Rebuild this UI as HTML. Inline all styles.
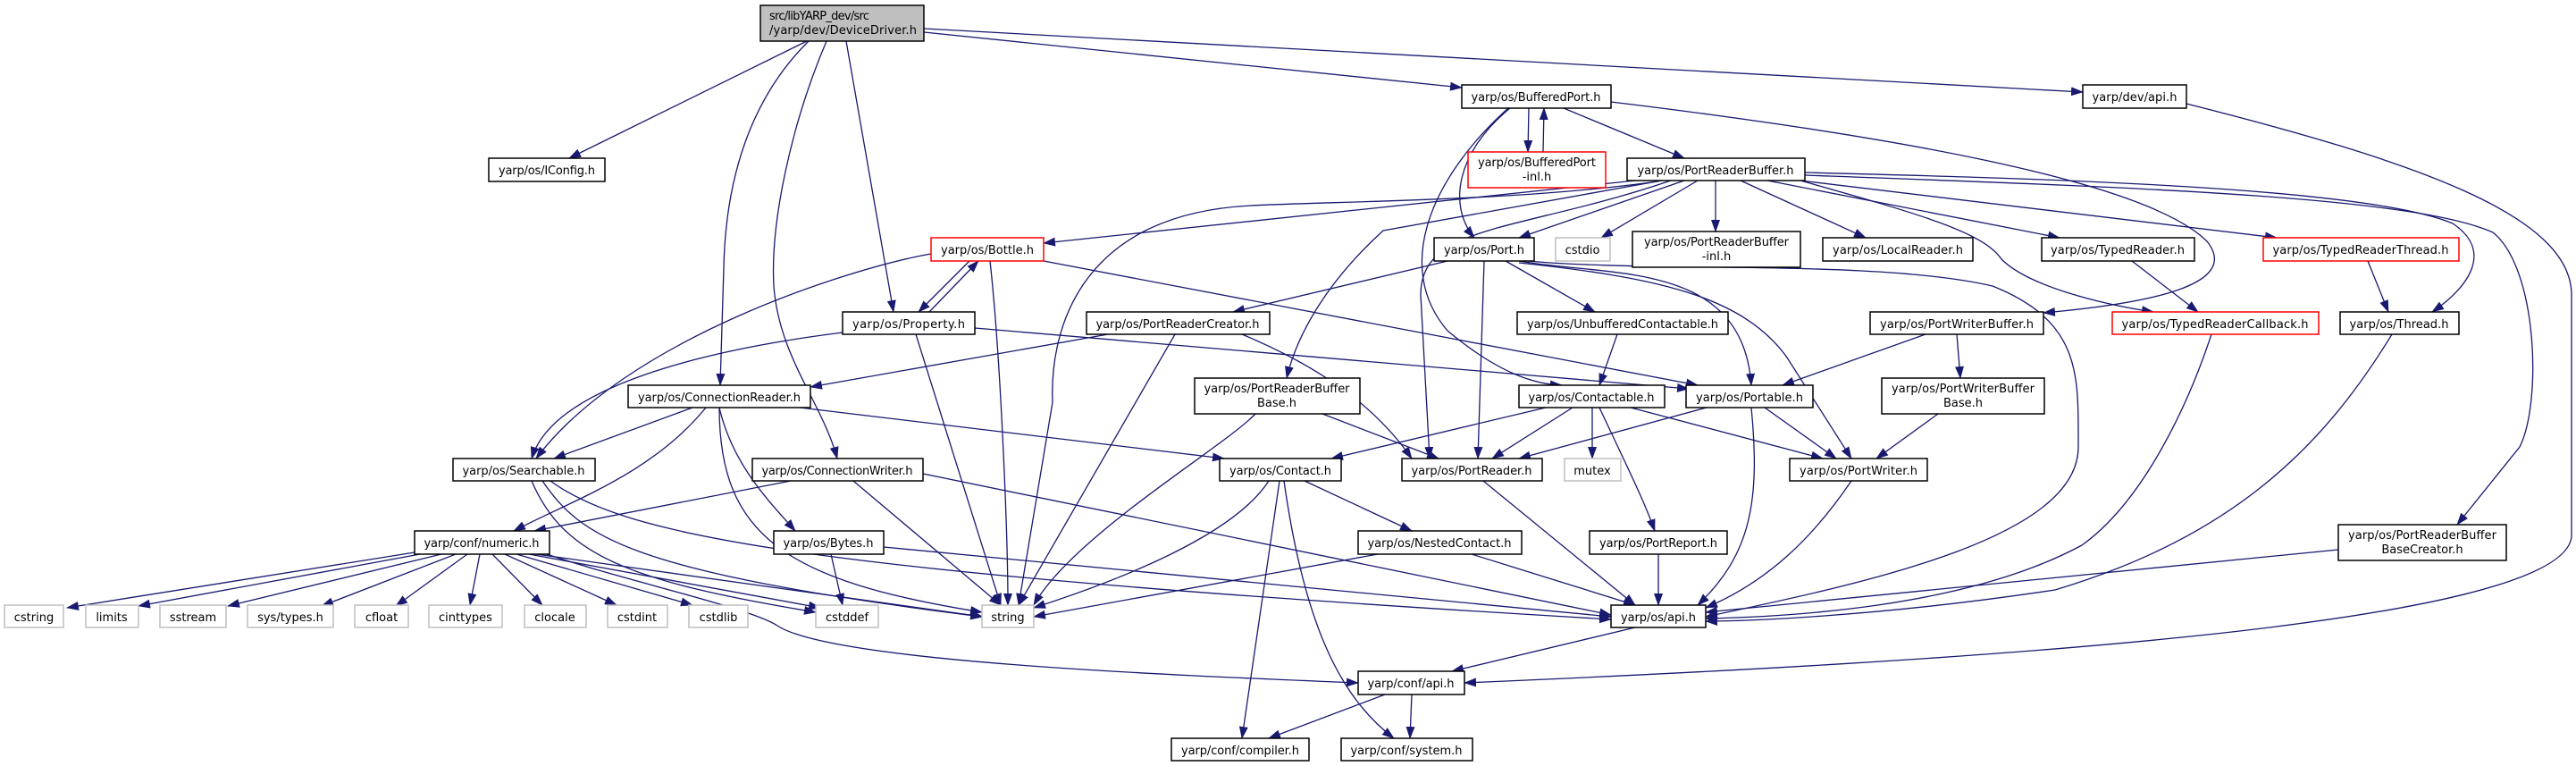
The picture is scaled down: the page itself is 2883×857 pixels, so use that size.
<!DOCTYPE html>
<html><head><meta charset="utf-8">
<style>
html,body{margin:0;padding:0;background:#fff;}
svg{display:block;}
text{font-family:"DejaVu Sans","Liberation Sans",sans-serif;font-size:13px;fill:#000;}
.n{fill:#fff;stroke:#000;stroke-width:1.5;}
.g{fill:#fff;stroke:#bfbfbf;stroke-width:1.5;}
.r{fill:#fff;stroke:#ff0000;stroke-width:1.5;}
.e{fill:none;stroke:#191970;stroke-width:1.3;}
</style></head><body>
<svg width="2883" height="857" viewBox="0 0 2883 857" xmlns="http://www.w3.org/2000/svg">
<defs>
<marker id="a" markerUnits="userSpaceOnUse" markerWidth="14" markerHeight="10" refX="13" refY="5" orient="auto">
<path d="M0,0 L14,5 L0,10 Z" fill="#191970"/>
</marker>
</defs>
<g class="e" marker-end="url(#a)">
<path d="M903,46 L637,177"/>
<path d="M905,46 C840,110 812,200 810,300 L806,431"/>
<path d="M925,46 C885,140 862,250 866,320 C872,400 920,450 937,513"/>
<path d="M947,46 L1000,349"/>
<path d="M1034,36 L1636,98"/>
<path d="M1034,32 L2331,103"/>
<path d="M1711,121 L1710,170"/>
<path d="M1727,170 L1728,121"/>
<path d="M1750,121 L1885,177"/>
<path d="M1690,121 C1630,170 1620,230 1650,266"/>
<path d="M1688,121 C1600,200 1560,300 1620,370 C1680,420 1720,430 1748,431"/>
<path d="M1803,114 C2100,150 2400,200 2470,270 C2510,320 2400,340 2287,350"/>
<path d="M2447,116 C2700,180 2878,240 2878,330 L2878,600 C2870,700 2200,740 1639,764"/>
<path d="M1830,202 L1168,272"/>
<path d="M1855,203 C1700,225 1500,225 1400,230 C1200,240 1175,380 1178,450 L1140,677"/>
<path d="M1885,202 L1700,266"/>
<path d="M1900,202 L1792,266"/>
<path d="M1920,202 L1920,259"/>
<path d="M1948,202 L2088,266"/>
<path d="M1978,202 L2305,266"/>
<path d="M2015,202 L2548,266"/>
<path d="M2015,202 C2150,240 2220,260 2240,290 C2270,320 2350,340 2410,349"/>
<path d="M2020,193 C2300,200 2650,210 2745,250 C2790,280 2765,320 2722,349"/>
<path d="M2020,196 C2400,210 2700,220 2790,260 C2840,300 2845,450 2820,500 L2750,587"/>
<path d="M1870,202 C1700,260 1590,250 1590,330 L1600,513"/>
<path d="M1860,202 L1548,258 C1480,320 1450,380 1440,423"/>
<path d="M1620,292 L1380,349"/>
<path d="M1685,292 L1785,349"/>
<path d="M1661,292 L1654,513"/>
<path d="M1700,292 C1800,310 1950,290 1960,431"/>
<path d="M1700,294 C1850,310 1950,330 2000,400 L2072,513"/>
<path d="M1710,292 C1850,305 2100,290 2230,320 C2330,360 2326,420 2326,500 C2326,600 2100,650 1909,690"/>
<path d="M1085,292 L1028,349"/>
<path d="M1040,349 L1095,292"/>
<path d="M1042,284 C950,300 700,380 600,513"/>
<path d="M1108,292 C1120,400 1128,600 1128,677"/>
<path d="M1168,292 L1900,431"/>
<path d="M943,372 C800,390 620,430 595,513"/>
<path d="M1025,374 L1120,677"/>
<path d="M1091,367 L1890,435"/>
<path d="M1240,374 L907,433"/>
<path d="M1315,374 L1140,677"/>
<path d="M1390,374 C1500,420 1550,470 1580,513"/>
<path d="M775,456 L620,513"/>
<path d="M790,456 C730,530 640,560 575,594"/>
<path d="M805,456 C805,600 880,650 1099,685"/>
<path d="M805,456 C820,520 860,560 890,594"/>
<path d="M895,456 L1370,513"/>
<path d="M885,538 L598,594"/>
<path d="M955,538 L1120,677"/>
<path d="M1033,530 L1803,688"/>
<path d="M607,538 C650,600 700,640 1099,690"/>
<path d="M595,538 C630,620 700,650 913,685"/>
<path d="M616,538 C700,600 900,640 1803,693"/>
<path d="M464,618 L75,680"/>
<path d="M470,620 L155,678"/>
<path d="M494,620 L255,678"/>
<path d="M510,620 L360,678"/>
<path d="M523,620 L443,678"/>
<path d="M537,620 L526,677"/>
<path d="M551,620 L607,677"/>
<path d="M565,620 L690,677"/>
<path d="M578,620 L775,677"/>
<path d="M592,620 L918,680"/>
<path d="M600,620 L1100,690"/>
<path d="M612,620 C700,650 840,680 870,700 C930,740 1300,755 1520,764"/>
<path d="M930,620 L943,677"/>
<path d="M989,612 L1803,690"/>
<path d="M1420,538 C1380,600 1250,650 1157,680"/>
<path d="M1460,538 L1580,594"/>
<path d="M1432,538 L1390,826"/>
<path d="M1437,538 C1460,700 1500,780 1560,826"/>
<path d="M1405,463 C1370,500 1200,600 1157,677"/>
<path d="M1480,463 L1610,513"/>
<path d="M1730,456 L1490,513"/>
<path d="M1760,456 L1670,513"/>
<path d="M1782,456 L1782,513"/>
<path d="M1790,456 C1820,520 1840,560 1852,594"/>
<path d="M1825,456 L2040,513"/>
<path d="M1810,374 L1790,431"/>
<path d="M1910,456 L1700,513"/>
<path d="M1975,456 L2055,513"/>
<path d="M1960,456 C1970,560 1960,620 1900,677"/>
<path d="M2072,538 C2030,600 1980,650 1909,680"/>
<path d="M1660,538 L1830,677"/>
<path d="M1542,620 L1157,690"/>
<path d="M1647,620 L1830,677"/>
<path d="M1856,620 L1856,677"/>
<path d="M2155,374 L1995,431"/>
<path d="M2190,374 L2194,423"/>
<path d="M2169,463 L2100,513"/>
<path d="M2386,292 L2460,349"/>
<path d="M2650,292 L2673,349"/>
<path d="M2475,374 C2450,450 2400,560 2330,610 C2200,680 2000,690 1909,692"/>
<path d="M2677,374 C2600,500 2500,600 2300,660 C2100,690 1950,695 1909,695"/>
<path d="M2617,615 L1909,685"/>
<path d="M1830,702 L1625,751"/>
<path d="M1550,777 L1420,826"/>
<path d="M1580,777 L1578,826"/>
</g>

<rect x="851" y="6" width="183" height="40" fill="#bfbfbf" stroke="#000" stroke-width="1.5"/>
<text x="861" y="22" textLength="112">src/libYARP_dev/src</text>
<text x="861" y="38" textLength="165">/yarp/dev/DeviceDriver.h</text>

<g>
<rect class="n" x="547" y="177" width="130" height="26"/><text x="612" y="195" text-anchor="middle" textLength="108">yarp/os/IConfig.h</text>
<rect class="n" x="1636" y="95" width="167" height="26"/><text x="1719" y="113" text-anchor="middle" textLength="145">yarp/os/BufferedPort.h</text>
<rect class="r" x="1643" y="170" width="154" height="40"/><text x="1720" y="186" text-anchor="middle" textLength="132">yarp/os/BufferedPort</text><text x="1720" y="202" text-anchor="middle">-inl.h</text>
<rect class="n" x="2331" y="95" width="116" height="26"/><text x="2389" y="113" text-anchor="middle" textLength="95">yarp/dev/api.h</text>
<rect class="n" x="1821" y="177" width="199" height="25"/><text x="1920" y="195" text-anchor="middle" textLength="175">yarp/os/PortReaderBuffer.h</text>
<rect class="r" x="1042" y="266" width="126" height="26"/><text x="1105" y="284" text-anchor="middle" textLength="104">yarp/os/Bottle.h</text>
<rect class="n" x="1605" y="266" width="112" height="26"/><text x="1661" y="284" text-anchor="middle" textLength="90">yarp/os/Port.h</text>
<rect class="g" x="1741" y="266" width="61" height="26"/><text x="1771" y="284" text-anchor="middle">cstdio</text>
<rect class="n" x="1827" y="259" width="188" height="40"/><text x="1921" y="275" text-anchor="middle" textLength="162">yarp/os/PortReaderBuffer</text><text x="1921" y="291" text-anchor="middle">-inl.h</text>
<rect class="n" x="2040" y="266" width="168" height="26"/><text x="2124" y="284" text-anchor="middle" textLength="146">yarp/os/LocalReader.h</text>
<rect class="n" x="2285" y="266" width="171" height="26"/><text x="2370" y="284" text-anchor="middle" textLength="150">yarp/os/TypedReader.h</text>
<rect class="r" x="2533" y="266" width="219" height="26"/><text x="2642" y="284" text-anchor="middle" textLength="197">yarp/os/TypedReaderThread.h</text>
<rect class="n" x="943" y="349" width="148" height="25"/><text x="1017" y="367" text-anchor="middle" textLength="126">yarp/os/Property.h</text>
<rect class="n" x="1216" y="349" width="205" height="25"/><text x="1318" y="367" text-anchor="middle" textLength="183">yarp/os/PortReaderCreator.h</text>
<rect class="n" x="1698" y="349" width="236" height="25"/><text x="1816" y="367" text-anchor="middle" textLength="214">yarp/os/UnbufferedContactable.h</text>
<rect class="n" x="2093" y="349" width="194" height="25"/><text x="2190" y="367" text-anchor="middle" textLength="172">yarp/os/PortWriterBuffer.h</text>
<rect class="r" x="2364" y="349" width="231" height="25"/><text x="2479" y="367" text-anchor="middle" textLength="209">yarp/os/TypedReaderCallback.h</text>
<rect class="n" x="2619" y="349" width="133" height="25"/><text x="2685" y="367" text-anchor="middle" textLength="111">yarp/os/Thread.h</text>
<rect class="n" x="703" y="431" width="204" height="25"/><text x="805" y="449" text-anchor="middle" textLength="182">yarp/os/ConnectionReader.h</text>
<rect class="n" x="1337" y="423" width="185" height="40"/><text x="1429" y="439" text-anchor="middle" textLength="163">yarp/os/PortReaderBuffer</text><text x="1429" y="455" text-anchor="middle">Base.h</text>
<rect class="n" x="1700" y="431" width="163" height="25"/><text x="1781" y="449" text-anchor="middle" textLength="141">yarp/os/Contactable.h</text>
<rect class="n" x="1887" y="431" width="142" height="25"/><text x="1958" y="449" text-anchor="middle" textLength="120">yarp/os/Portable.h</text>
<rect class="n" x="2106" y="423" width="182" height="40"/><text x="2197" y="439" text-anchor="middle" textLength="160">yarp/os/PortWriterBuffer</text><text x="2197" y="455" text-anchor="middle">Base.h</text>
<rect class="n" x="507" y="513" width="159" height="25"/><text x="586" y="531" text-anchor="middle" textLength="137">yarp/os/Searchable.h</text>
<rect class="n" x="842" y="513" width="191" height="25"/><text x="937" y="531" text-anchor="middle" textLength="169">yarp/os/ConnectionWriter.h</text>
<rect class="n" x="1365" y="513" width="136" height="25"/><text x="1433" y="531" text-anchor="middle" textLength="114">yarp/os/Contact.h</text>
<rect class="n" x="1569" y="513" width="157" height="25"/><text x="1647" y="531" text-anchor="middle" textLength="135">yarp/os/PortReader.h</text>
<rect class="g" x="1751" y="513" width="63" height="25"/><text x="1782" y="531" text-anchor="middle">mutex</text>
<rect class="n" x="2003" y="513" width="154" height="25"/><text x="2080" y="531" text-anchor="middle" textLength="132">yarp/os/PortWriter.h</text>
<rect class="n" x="464" y="594" width="151" height="26"/><text x="539" y="612" text-anchor="middle" textLength="129">yarp/conf/numeric.h</text>
<rect class="n" x="866" y="594" width="123" height="26"/><text x="927" y="612" text-anchor="middle" textLength="101">yarp/os/Bytes.h</text>
<rect class="n" x="1520" y="594" width="183" height="26"/><text x="1611" y="612" text-anchor="middle" textLength="161">yarp/os/NestedContact.h</text>
<rect class="n" x="1779" y="594" width="154" height="26"/><text x="1856" y="612" text-anchor="middle" textLength="132">yarp/os/PortReport.h</text>
<rect class="n" x="2617" y="587" width="188" height="40"/><text x="2711" y="603" text-anchor="middle" textLength="166">yarp/os/PortReaderBuffer</text><text x="2711" y="619" text-anchor="middle">BaseCreator.h</text>
<rect class="g" x="5" y="677" width="66" height="25"/><text x="38" y="695" text-anchor="middle">cstring</text>
<rect class="g" x="96" y="677" width="59" height="25"/><text x="125" y="695" text-anchor="middle">limits</text>
<rect class="g" x="179" y="677" width="74" height="25"/><text x="216" y="695" text-anchor="middle">sstream</text>
<rect class="g" x="277" y="677" width="96" height="25"/><text x="325" y="695" text-anchor="middle">sys/types.h</text>
<rect class="g" x="397" y="677" width="60" height="25"/><text x="427" y="695" text-anchor="middle">cfloat</text>
<rect class="g" x="480" y="677" width="82" height="25"/><text x="521" y="695" text-anchor="middle">cinttypes</text>
<rect class="g" x="587" y="677" width="69" height="25"/><text x="621" y="695" text-anchor="middle">clocale</text>
<rect class="g" x="680" y="677" width="67" height="25"/><text x="713" y="695" text-anchor="middle">cstdint</text>
<rect class="g" x="771" y="677" width="66" height="25"/><text x="804" y="695" text-anchor="middle">cstdlib</text>
<rect class="g" x="913" y="677" width="70" height="25"/><text x="948" y="695" text-anchor="middle">cstddef</text>
<rect class="g" x="1099" y="677" width="58" height="25"/><text x="1128" y="695" text-anchor="middle">string</text>
<rect class="n" x="1803" y="677" width="106" height="25"/><text x="1856" y="695" text-anchor="middle" textLength="84">yarp/os/api.h</text>
<rect class="n" x="1520" y="751" width="119" height="26"/><text x="1579" y="769" text-anchor="middle" textLength="97">yarp/conf/api.h</text>
<rect class="n" x="1311" y="826" width="154" height="25"/><text x="1388" y="844" text-anchor="middle" textLength="132">yarp/conf/compiler.h</text>
<rect class="n" x="1501" y="826" width="147" height="25"/><text x="1574" y="844" text-anchor="middle" textLength="125">yarp/conf/system.h</text>
</g>
</svg>
</body></html>
